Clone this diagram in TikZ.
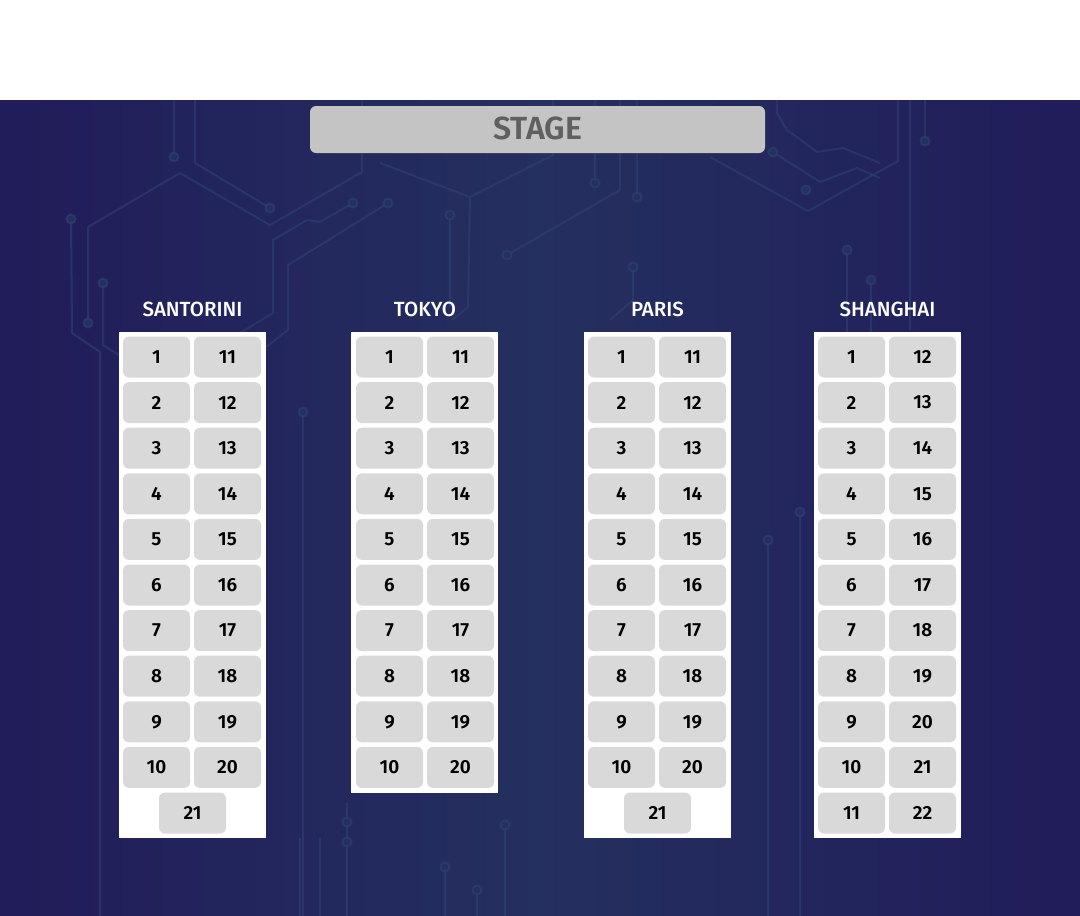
\documentclass[tikz,border=0pt]{standalone}
\usepackage{fontspec}
\setmainfont{Fira Sans}
\newfontfamily\seatfont{Fira Sans Medium}
\newfontfamily\stagefont{Fira Sans SemiBold}
\definecolor{bgedge}{HTML}{211C5A}
\definecolor{bgmid}{HTML}{24305F}
\definecolor{tracec}{HTML}{2E4476}
\definecolor{seatgray}{HTML}{D9D9D9}
\definecolor{stagegray}{HTML}{C4C4C4}
\definecolor{stagetext}{HTML}{606060}
\begin{document}
\begin{tikzpicture}[x=1pt,y=-1pt,
  seat/.style={rectangle, rounded corners=6pt, fill=seatgray, minimum width=67pt,
    minimum height=41pt, inner sep=0pt, text=black,
    font=\stagefont\fontsize{19}{19}\selectfont},
  zonetitle/.style={text=white, inner sep=0pt, font=\seatfont\fontsize{20.5}{20.5}\selectfont},
  stagebox/.style={rectangle, rounded corners=6pt, fill=stagegray, minimum width=455pt,
    minimum height=47pt, inner sep=0pt, text=stagetext,
    font=\stagefont\fontsize{32}{32}\selectfont},
  panel/.style={fill=white},
  trace/.style={draw=tracec, line width=2pt, line join=round, draw opacity=0.55},
  pad/.style={circle, draw=tracec, draw opacity=0.55, line width=2pt, fill=bgmid,
    minimum size=9pt, inner sep=0pt}]
\useasboundingbox (0,0) rectangle (1080,916);

% page top and room background
\fill[white] (0,0) rectangle (1080,100);
\shade[left color=bgedge, right color=bgedge, middle color=bgmid] (0,100) rectangle (1080,916);

% faint circuit traces on the wall
\begin{scope}
\draw[trace] (88,323) -- (88,227) -- (180,173) -- (270,225) -- (362,172) -- (362,100);
\draw[trace] (71,219) -- (72,333) -- (100,352) -- (100,916);
\draw[trace] (103,283) -- (103,345) -- (119,355);
\draw[trace] (195,100) -- (195,163) -- (270,208);
\draw[trace] (174,100) -- (174,157);
\draw[trace] (353,203) -- (320,222) -- (307,220) -- (273,240) -- (273,313) -- (240,333);
\draw[trace] (388,203) -- (288,265) -- (288,330) -- (266,347);
\draw[trace] (303,412) -- (303,916);
\draw[trace] (380,163) -- (470,197) -- (553,155) -- (553,100);
\draw[trace] (470,197) -- (468,307) -- (452,320);
\draw[trace] (450,215) -- (450,307);
\draw[trace] (507,255) -- (620,190) -- (620,100);
\draw[trace] (595,183) -- (595,100);
\draw[trace] (637,197) -- (637,100);
\draw[trace] (633,267) -- (633,300) -- (610,320);
\draw[trace] (710,157) -- (808,211) -- (898,161) -- (898,100);
\draw[trace] (773,152) -- (820,182) -- (857,168) -- (880,178);
\draw[trace] (777,100) -- (777,113) -- (787,130) -- (817,152) -- (843,148) -- (880,163);
\draw[trace] (910,100) -- (910,330);
\draw[trace] (925,141) -- (925,100);
\draw[trace] (847,250) -- (847,332);
\draw[trace] (871,280) -- (871,332);
\draw[trace] (320,838) -- (320,916);
\draw[trace] (347,803) -- (347,916);
\draw[trace] (300,838) -- (300,916);
\draw[trace] (505,825) -- (505,916);
\draw[trace] (445,867) -- (445,916);
\draw[trace] (477,890) -- (477,916);
\draw[trace] (800,512) -- (800,916);
\draw[trace] (768,540) -- (768,916);
\foreach \p in {(88,323),(71,219),(103,283),(270,208),(174,157),(353,203),(388,203),
  (303,412),(450,215),(507,255),(595,183),(637,197),(633,267),(773,152),(806,190),
  (925,141),(847,250),(871,280),(347,822),(347,842),(445,867),(477,890),(505,825),
  (800,512),(768,540)}
  \node[pad] at \p {};
\end{scope}

% stage
\node[stagebox] (stage) at (537.5,129.5) {\raisebox{3.5pt}{STAGE}};

% zone titles
\node[zonetitle] (t-san) at (192.5,309) {SANTORINI};
\node[zonetitle] (t-tok) at (425,309) {TOKYO};
\node[zonetitle] (t-par) at (657.5,309) {PARIS};
\node[zonetitle] (t-sha) at (887.5,309) {SHANGHAI};

% white panels behind the seats
\fill[panel] (119,332) rectangle (266,838);
\fill[panel] (351,332) rectangle (498,793);
\fill[panel] (584,332) rectangle (731,838);
\fill[panel] (814,332) rectangle (961,838);

% SANTORINI seats
\foreach \r in {1,...,10} {
  \pgfmathtruncatemacro\q{\r+10}
  \node[seat] (san-\r) at (156.5,{357+45.6*(\r-1)}) {\r};
  \node[seat] (san-\q) at (227.5,{357+45.6*(\r-1)}) {\q};
}
\node[seat] (san-21) at (192.5,813) {21};

% TOKYO seats
\foreach \r in {1,...,10} {
  \pgfmathtruncatemacro\q{\r+10}
  \node[seat] (tok-\r) at (389.5,{357+45.6*(\r-1)}) {\r};
  \node[seat] (tok-\q) at (460.5,{357+45.6*(\r-1)}) {\q};
}

% PARIS seats
\foreach \r in {1,...,10} {
  \pgfmathtruncatemacro\q{\r+10}
  \node[seat] (par-\r) at (621.5,{357+45.6*(\r-1)}) {\r};
  \node[seat] (par-\q) at (692.5,{357+45.6*(\r-1)}) {\q};
}
\node[seat] (par-21) at (657.5,813) {21};

% SHANGHAI seats
\foreach \r in {1,...,11} {
  \pgfmathtruncatemacro\q{\r+11}
  \node[seat] (sha-\r) at (851.5,{357+45.6*(\r-1)}) {\r};
  \node[seat] (sha-\q) at (922.5,{357+45.6*(\r-1)}) {\q};
}
\end{tikzpicture}
\end{document}
